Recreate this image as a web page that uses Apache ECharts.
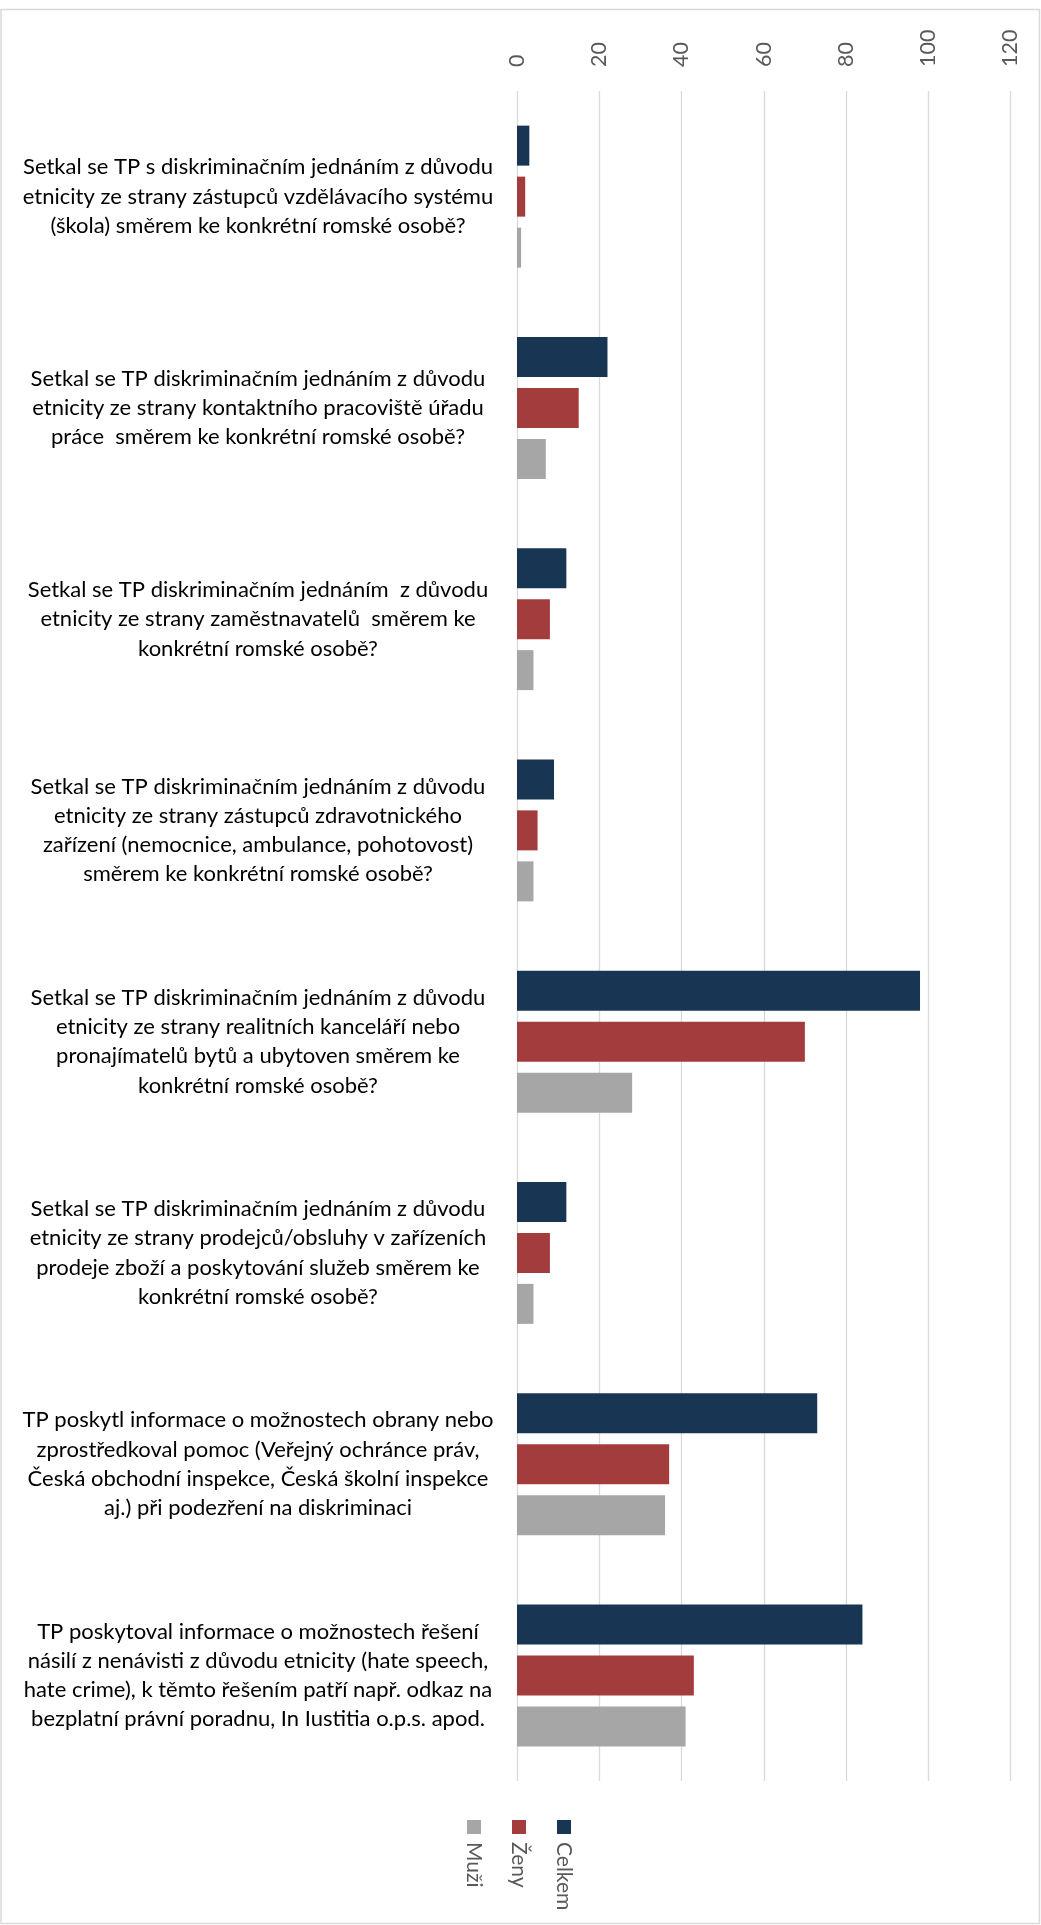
<!DOCTYPE html>
<html>
<head>
<meta charset="utf-8">
<script src="https://cdn.jsdelivr.net/npm/echarts@6/dist/echarts.min.js"></script>
<style>
html,body{margin:0;padding:0;background:#fff;}
#chart{width:1041px;height:1925px;}
</style>
</head>
<body>
<div id="chart"></div>
<script>
const categories = [
  "Setkal se TP s diskriminačním jednáním z důvodu\netnicity ze strany zástupců vzdělávacího systému\n(škola) směrem ke konkrétní romské osobě?",
  "Setkal se TP diskriminačním jednáním z důvodu\netnicity ze strany kontaktního pracoviště úřadu\npráce  směrem ke konkrétní romské osobě?",
  "Setkal se TP diskriminačním jednáním  z důvodu\netnicity ze strany zaměstnavatelů  směrem ke\nkonkrétní romské osobě?",
  "Setkal se TP diskriminačním jednáním z důvodu\netnicity ze strany zástupců zdravotnického\nzařízení (nemocnice, ambulance, pohotovost)\nsměrem ke konkrétní romské osobě?",
  "Setkal se TP diskriminačním jednáním z důvodu\netnicity ze strany realitních kanceláří nebo\npronajímatelů bytů a ubytoven směrem ke\nkonkrétní romské osobě?",
  "Setkal se TP diskriminačním jednáním z důvodu\netnicity ze strany prodejců/obsluhy v zařízeních\nprodeje zboží a poskytování služeb směrem ke\nkonkrétní romské osobě?",
  "TP poskytl informace o možnostech obrany nebo\nzprostředkoval pomoc (Veřejný ochránce práv,\nČeská obchodní inspekce, Česká školní inspekce\naj.) při podezření na diskriminaci",
  "TP poskytoval informace o možnostech řešení\nnásilí z nenávisti z důvodu etnicity (hate speech,\nhate crime), k těmto řešením patří např. odkaz na\nbezplatní právní poradnu, In Iustitia o.p.s. apod."
];
const seriesNames = ["Celkem", "Ženy", "Muži"];
const celkem = [3, 22, 12, 9, 98, 12, 73, 84];
const zeny   = [2, 15, 8, 5, 70, 8, 37, 43];
const muzi   = [1, 7, 4, 4, 28, 4, 36, 41];
const tickMin = 0, tickMax = 120, tickStep = 20;

const colors = ["#183653", "#A33C3C", "#A6A6A6"];
const FONT = "Lato";
const seriesData = [celkem, zeny, muzi];

const chart = echarts.init(document.getElementById('chart'));

const legendOrder = [2, 1, 0]; // Muži, Ženy, Celkem left to right
const legendX = [474, 519, 564];
const graphics = [{
  type: 'rect', shape: {x: 1, y: 9.5, width: 1038.5, height: 1914}, style: {fill: 'none', stroke: '#d9d9d9', lineWidth: 1.5}, silent: true
}];
legendOrder.forEach((si, i) => {
  graphics.push({type: 'rect', shape: {x: legendX[i] - 7, y: 1820, width: 14, height: 14}, style: {fill: colors[si]}});
  graphics.push({type: 'text', x: legendX[i], y: 1842, rotation: -Math.PI / 2,
    style: {text: seriesNames[si], fill: '#595959', font: '21px ' + FONT, textAlign: 'left', textVerticalAlign: 'middle'}});
});

chart.setOption({
  animation: false,
  backgroundColor: '#fff',
  textStyle: {fontFamily: FONT},
  grid: {left: 517, right: 30.5, top: 91, height: 1690, containLabel: false},
  xAxis: {
    type: 'value', position: 'top', min: tickMin, max: tickMax, interval: tickStep,
    axisLine: {show: false}, axisTick: {show: false},
    splitLine: {lineStyle: {color: '#d9d9d9', width: 1.3}},
    axisLabel: {rotate: -90, fontSize: 21.5, color: '#595959', margin: 24, fontFamily: FONT}
  },
  yAxis: {
    type: 'category', inverse: true, data: categories,
    axisLine: {show: false}, axisTick: {show: false},
    axisLabel: {interval: 0, align: 'center', margin: 259, fontSize: 22, lineHeight: 29.3, color: '#000', fontFamily: FONT}
  },
  series: seriesData.map((d, i) => ({
    name: seriesNames[i], type: 'bar', data: d, barWidth: 40, barGap: '27.5%',
    itemStyle: {color: colors[i]}
  })),
  graphic: graphics
});
</script>
</body>
</html>
